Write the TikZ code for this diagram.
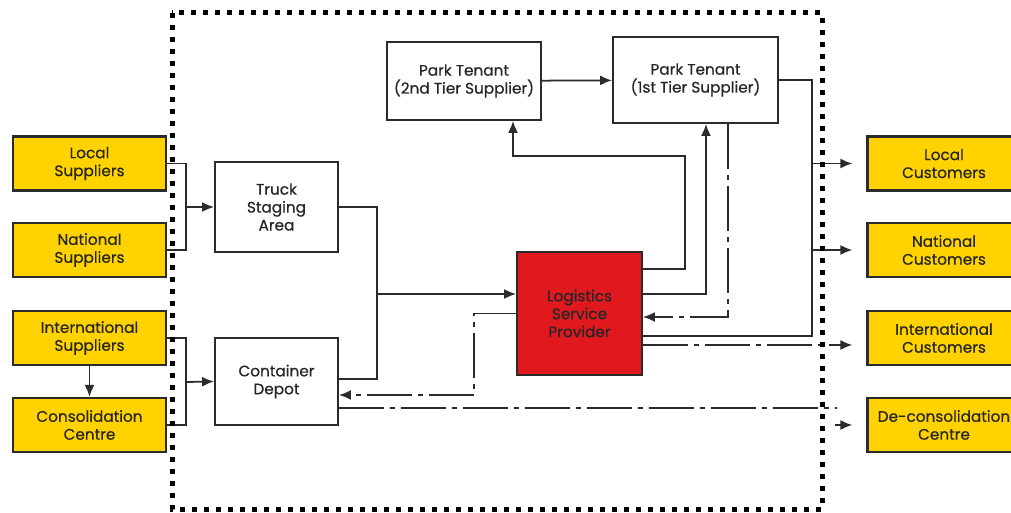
\documentclass[tikz,border=0pt]{standalone}
\usepackage{fontspec}
\setmainfont{Poppins}
\newfontfamily\boxfont[FakeBold=0.5]{Poppins}
\usetikzlibrary{arrows.meta}
\definecolor{boxyellow}{HTML}{FFD200}
\definecolor{lspred}{HTML}{E0191F}
\definecolor{edgegray}{HTML}{2B2B2B}

\begin{document}
\begin{tikzpicture}[x=0.02cm, y=-0.02cm,
    every node/.style={font=\boxfont\fontsize{8.7}{10.2}\selectfont, align=center, inner sep=0pt, text=black!85},
    party/.style={draw=edgegray, line width=1.3pt, fill=boxyellow, minimum width=3.06cm, minimum height=1.08cm},
    site/.style={draw=edgegray, line width=1.1pt, fill=white},
    link/.style={line width=1pt, draw=edgegray},
    flow/.style={link, -{Latex[length=2.4mm,width=2mm]}},
    dd/.style={dash pattern=on 0.9cm off 0.12cm on 0.1cm off 0.12cm},
    frame/.style={line width=0.1cm, dash pattern=on 0.1cm off 0.14cm}]
    \useasboundingbox (0,0) rectangle (1011,513);

    % suppliers and customers
    \node[party] (lsup) at (89.5,163.5) {Local\\Suppliers};
    \node[party] (nsup) at (89.5,250) {National\\Suppliers};
    \node[party] (isup) at (89.5,338) {International\\Suppliers};
    \node[party] (cons) at (89.5,425) {Consolidation\\Centre};
    \node[party] (lcus) at (944,163.5) {Local\\Customers};
    \node[party] (ncus) at (944,250) {National\\Customers};
    \node[party] (icus) at (944,338) {International\\Customers};
    \node[party] (dcus) at (944,425) {De-consolidation\\Centre};

    % park sites
    \node[site, minimum width=2.46cm, minimum height=1.8cm] (truck) at (276.5,207) {Truck\\Staging\\Area};
    \node[site, minimum width=2.46cm, minimum height=1.74cm] (depot) at (276.5,381.5) {Container\\Depot};
    \node[site, minimum width=3.08cm, minimum height=1.56cm] (pt2) at (464,81) {Park Tenant\\(2nd Tier Supplier)};
    \node[site, minimum width=3.3cm, minimum height=1.72cm] (pt1) at (695.5,80) {Park Tenant\\(1st Tier Supplier)};
    \node[site, fill=lspred, minimum width=2.5cm, minimum height=2.46cm] (lsp) at (579.5,313.5) {Logistics\\Service\\Provider};

    % inbound
    \coordinate (jl) at (186,207);
    \draw[link] (lsup.east) -| (jl) |- (nsup.east);
    \draw[flow] (jl) -- (truck.west);
    \coordinate (ji) at (186,382);
    \draw[link] (isup.east) -| (ji) |- (cons.east);
    \draw[flow] (ji) -- (depot.west);
    \draw[flow] (isup) -- (cons);

    \coordinate (jt) at (377,294);
    \draw[link] (truck.east) -| (jt) |- ([yshift=0.05cm]depot.east);
    \draw[flow] (jt) -- (jt -| lsp.west);
    \coordinate (jd) at (474,395);
    \draw[flow,dd] (lsp.west) -| (jd) -- (jd -| depot.east);

    % tenants
    \coordinate (k2) at (685,156);
    \draw[flow] ([yshift=0.89cm]lsp.east) -| (k2) -| ([xshift=0.98cm]pt2.south);
    \draw[flow] ([yshift=0.39cm]lsp.east) -| ([xshift=0.21cm]pt1.south);
    \draw[flow,dd] ([xshift=0.65cm]pt1.south) |- ([yshift=-0.07cm]lsp.east);
    \draw[flow] (pt2) -- (pt1);

    % outbound
    \coordinate (kr) at (812,336);
    \draw[link] ([yshift=-0.45cm]lsp.east) -- (kr) |- (pt1.east);
    \foreach \c in {lcus,ncus}
        \draw[flow,shorten >=0.28cm] (kr |- \c.west) -- (\c.west);
    \coordinate (li) at ([yshift=-0.63cm]lsp.east);
    \draw[flow,dd,shorten >=0.28cm] (li) -- (li -| icus.west);
    \coordinate (de) at (837,408);
    \draw[link,dd] ([yshift=-0.53cm]depot.east) -- (de);
    \draw[flow,shorten >=0.28cm] ([xshift=-0.62cm]dcus.west) -- (dcus.west);

    \draw[frame] (172,13) rectangle (822,509);
\end{tikzpicture}
\end{document}
